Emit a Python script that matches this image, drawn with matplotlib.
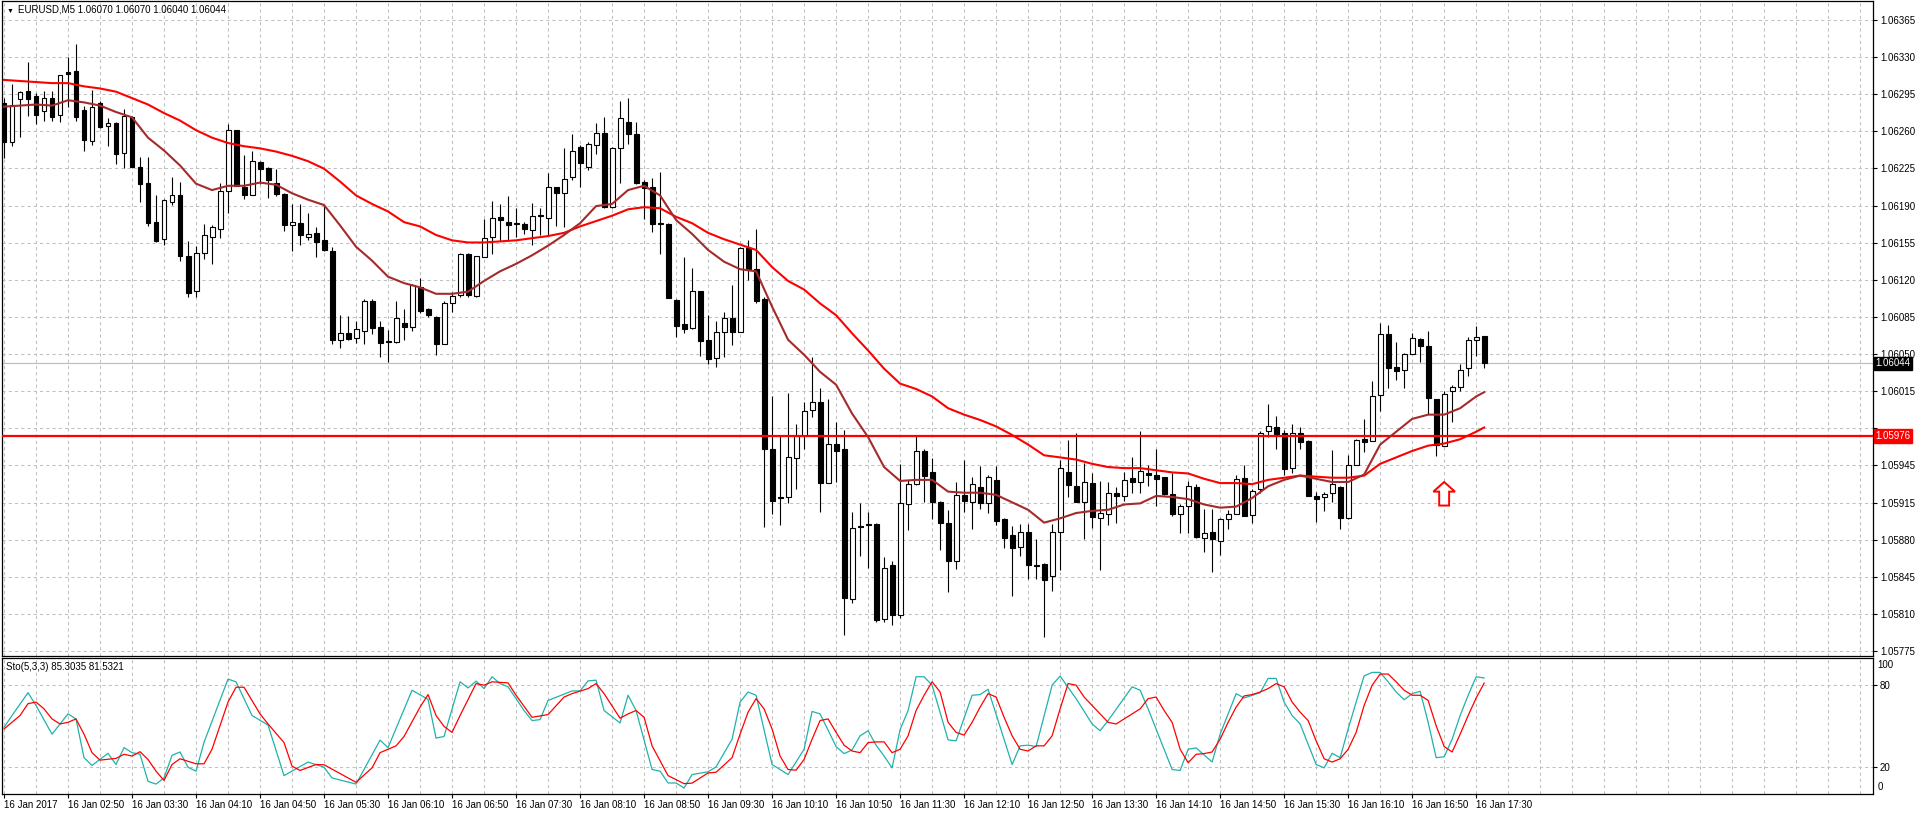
import matplotlib
matplotlib.use("Agg")
import matplotlib.pyplot as plt
import matplotlib.transforms as mtransforms
import numpy as np
from matplotlib.patches import Polygon

plt.rcParams["font.family"] = ["Liberation Sans", "DejaVu Sans"]

# EURUSD M5, 16 Jan 2017, one bar every 5 minutes from 02:10 to 17:35
opens = [1.06287, 1.06251, 1.06291, 1.06299, 1.06294, 1.06280, 1.06292, 1.06276, 1.06316, 1.06317,
         1.06281, 1.06252, 1.06287, 1.06266, 1.06269, 1.06241, 1.06274, 1.06228, 1.06213, 1.06176,
         1.06160, 1.06195, 1.06201, 1.06144, 1.06112, 1.06147, 1.06162, 1.06170, 1.06205, 1.06262,
         1.06209, 1.06201, 1.06232, 1.06227, 1.06213, 1.06202, 1.06173, 1.06175, 1.06162, 1.06166,
         1.06159, 1.06149, 1.06066, 1.06072, 1.06068, 1.06074, 1.06102, 1.06078, 1.06065, 1.06064,
         1.06082, 1.06078, 1.06115, 1.06095, 1.06087, 1.06062, 1.06100, 1.06108, 1.06146, 1.06107,
         1.06143, 1.06162, 1.06181, 1.06176, 1.06175, 1.06174, 1.06169, 1.06183, 1.06180, 1.06209,
         1.06203, 1.06218, 1.06246, 1.06228, 1.06248, 1.06259, 1.06190, 1.06245, 1.06270, 1.06258,
         1.06214, 1.06209, 1.06175, 1.06174, 1.06103, 1.06081, 1.06077, 1.06112, 1.06066, 1.06049,
         1.06073, 1.06086, 1.06073, 1.06152, 1.06132, 1.06104, 1.05964, 1.05919, 1.05919, 1.05955,
         1.05976, 1.06000, 1.06008, 1.05932, 1.05969, 1.05964, 1.05824, 1.05892, 1.05894, 1.05894,
         1.05805, 1.05855, 1.05809, 1.05912, 1.05931, 1.05962, 1.05942, 1.05914, 1.05895, 1.05859,
         1.05921, 1.05914, 1.05928, 1.05913, 1.05935, 1.05898, 1.05883, 1.05872, 1.05886, 1.05855,
         1.05856, 1.05845, 1.05886, 1.05942, 1.05929, 1.05914, 1.05932, 1.05899, 1.05903, 1.05923,
         1.05920, 1.05937, 1.05933, 1.05941, 1.05940, 1.05938, 1.05922, 1.05903, 1.05911, 1.05928,
         1.05881, 1.05886, 1.05878, 1.05898, 1.05903, 1.05937, 1.05902, 1.05926, 1.05981, 1.05984,
         1.05979, 1.05946, 1.05979, 1.05971, 1.05920, 1.05919, 1.05923, 1.05928, 1.05899, 1.05949,
         1.05973, 1.05971, 1.06014, 1.06071, 1.06041, 1.06038, 1.06053, 1.06067, 1.06060, 1.06011,
         1.05967, 1.06018, 1.06022, 1.06040, 1.06066, 1.06070]
highs = [1.06292, 1.06305, 1.06299, 1.06326, 1.06297, 1.06299, 1.06299, 1.06314, 1.06330, 1.06343,
         1.06285, 1.06300, 1.06289, 1.06273, 1.06270, 1.06282, 1.06275, 1.06237, 1.06237, 1.06201,
         1.06198, 1.06218, 1.06214, 1.06158, 1.06154, 1.06174, 1.06173, 1.06213, 1.06268, 1.06262,
         1.06239, 1.06243, 1.06233, 1.06228, 1.06226, 1.06203, 1.06193, 1.06193, 1.06185, 1.06171,
         1.06192, 1.06153, 1.06089, 1.06088, 1.06084, 1.06104, 1.06104, 1.06084, 1.06075, 1.06102,
         1.06095, 1.06118, 1.06124, 1.06096, 1.06088, 1.06102, 1.06111, 1.06147, 1.06147, 1.06144,
         1.06179, 1.06196, 1.06193, 1.06200, 1.06189, 1.06176, 1.06194, 1.06189, 1.06222, 1.06209,
         1.06245, 1.06258, 1.06248, 1.06251, 1.06269, 1.06274, 1.06246, 1.06289, 1.06292, 1.06270,
         1.06215, 1.06217, 1.06223, 1.06175, 1.06104, 1.06143, 1.06133, 1.06112, 1.06089, 1.06084,
         1.06092, 1.06117, 1.06153, 1.06159, 1.06170, 1.06106, 1.06013, 1.05977, 1.06016, 1.05987,
         1.06008, 1.06050, 1.06021, 1.06011, 1.05989, 1.05982, 1.05905, 1.05913, 1.05905, 1.05895,
         1.05863, 1.05859, 1.05950, 1.05935, 1.05977, 1.05964, 1.05955, 1.05915, 1.05907, 1.05933,
         1.05954, 1.05938, 1.05948, 1.05940, 1.05948, 1.05899, 1.05892, 1.05894, 1.05894, 1.05880,
         1.05857, 1.05894, 1.05954, 1.05972, 1.05979, 1.05951, 1.05941, 1.05934, 1.05933, 1.05928,
         1.05942, 1.05956, 1.05981, 1.05949, 1.05964, 1.05938, 1.05941, 1.05912, 1.05934, 1.05931,
         1.05908, 1.05908, 1.05899, 1.05907, 1.05940, 1.05949, 1.05926, 1.05981, 1.06006, 1.05995,
         1.05982, 1.05987, 1.05984, 1.05972, 1.05924, 1.05924, 1.05963, 1.05929, 1.05958, 1.05973,
         1.05992, 1.06027, 1.06082, 1.06080, 1.06064, 1.06054, 1.06072, 1.06068, 1.06074, 1.06011,
         1.06018, 1.06024, 1.06043, 1.06069, 1.06079, 1.06070]
lows = [1.06236, 1.06247, 1.06256, 1.06275, 1.06268, 1.06271, 1.06271, 1.06270, 1.06284, 1.06271,
        1.06243, 1.06248, 1.06264, 1.06247, 1.06230, 1.06227, 1.06228, 1.06195, 1.06172, 1.06157,
        1.06155, 1.06192, 1.06140, 1.06106, 1.06106, 1.06142, 1.06137, 1.06161, 1.06185, 1.06210,
        1.06198, 1.06201, 1.06212, 1.06199, 1.06200, 1.06168, 1.06149, 1.06155, 1.06159, 1.06143,
        1.06149, 1.06062, 1.06058, 1.06066, 1.06063, 1.06062, 1.06071, 1.06050, 1.06045, 1.06063,
        1.06066, 1.06074, 1.06091, 1.06087, 1.06052, 1.06062, 1.06092, 1.06106, 1.06106, 1.06106,
        1.06143, 1.06146, 1.06158, 1.06158, 1.06162, 1.06165, 1.06155, 1.06164, 1.06163, 1.06172,
        1.06171, 1.06215, 1.06209, 1.06225, 1.06240, 1.06189, 1.06189, 1.06213, 1.06249, 1.06212,
        1.06179, 1.06167, 1.06146, 1.06105, 1.06069, 1.06072, 1.06076, 1.06051, 1.06043, 1.06041,
        1.06050, 1.06061, 1.06073, 1.06122, 1.06100, 1.05891, 1.05903, 1.05893, 1.05913, 1.05926,
        1.05964, 1.05994, 1.05905, 1.05932, 1.05933, 1.05790, 1.05820, 1.05864, 1.05853, 1.05802,
        1.05802, 1.05799, 1.05806, 1.05888, 1.05930, 1.05914, 1.05898, 1.05869, 1.05830, 1.05852,
        1.05905, 1.05889, 1.05908, 1.05904, 1.05893, 1.05871, 1.05826, 1.05864, 1.05842, 1.05842,
        1.05788, 1.05831, 1.05851, 1.05919, 1.05914, 1.05880, 1.05890, 1.05851, 1.05893, 1.05895,
        1.05915, 1.05923, 1.05923, 1.05929, 1.05911, 1.05921, 1.05901, 1.05885, 1.05885, 1.05881,
        1.05868, 1.05849, 1.05865, 1.05889, 1.05903, 1.05901, 1.05895, 1.05923, 1.05975, 1.05964,
        1.05940, 1.05941, 1.05964, 1.05920, 1.05896, 1.05906, 1.05914, 1.05889, 1.05898, 1.05949,
        1.05961, 1.05971, 1.05999, 1.06021, 1.06028, 1.06021, 1.06053, 1.06045, 1.05997, 1.05957,
        1.05967, 1.05989, 1.06018, 1.06032, 1.06051, 1.06040]
closes = [1.06251, 1.06286, 1.06298, 1.06291, 1.06276, 1.06292, 1.06274, 1.06314, 1.06315, 1.06274,
          1.06253, 1.06284, 1.06265, 1.06269, 1.06240, 1.06275, 1.06228, 1.06212, 1.06175, 1.06158,
          1.06197, 1.06201, 1.06144, 1.06110, 1.06147, 1.06164, 1.06171, 1.06205, 1.06262, 1.06210,
          1.06201, 1.06233, 1.06226, 1.06215, 1.06202, 1.06173, 1.06176, 1.06164, 1.06165, 1.06157,
          1.06150, 1.06066, 1.06072, 1.06067, 1.06076, 1.06102, 1.06077, 1.06063, 1.06064, 1.06086,
          1.06078, 1.06117, 1.06093, 1.06089, 1.06062, 1.06100, 1.06107, 1.06146, 1.06108, 1.06144,
          1.06161, 1.06180, 1.06178, 1.06173, 1.06174, 1.06170, 1.06182, 1.06182, 1.06209, 1.06203,
          1.06216, 1.06243, 1.06231, 1.06249, 1.06259, 1.06190, 1.06245, 1.06273, 1.06258, 1.06213,
          1.06208, 1.06174, 1.06174, 1.06105, 1.06079, 1.06076, 1.06112, 1.06065, 1.06048, 1.06073,
          1.06086, 1.06073, 1.06152, 1.06132, 1.06102, 1.05964, 1.05915, 1.05918, 1.05956, 1.05976,
          1.05999, 1.06008, 1.05932, 1.05969, 1.05962, 1.05825, 1.05890, 1.05891, 1.05893, 1.05804,
          1.05853, 1.05809, 1.05913, 1.05931, 1.05962, 1.05939, 1.05914, 1.05895, 1.05859, 1.05921,
          1.05915, 1.05931, 1.05913, 1.05938, 1.05897, 1.05881, 1.05871, 1.05886, 1.05855, 1.05854,
          1.05841, 1.05886, 1.05946, 1.05930, 1.05914, 1.05933, 1.05900, 1.05904, 1.05923, 1.05920,
          1.05935, 1.05933, 1.05943, 1.05940, 1.05936, 1.05922, 1.05903, 1.05911, 1.05929, 1.05882,
          1.05885, 1.05880, 1.05898, 1.05903, 1.05936, 1.05901, 1.05925, 1.05979, 1.05985, 1.05978,
          1.05945, 1.05979, 1.05970, 1.05920, 1.05917, 1.05922, 1.05931, 1.05899, 1.05949, 1.05972,
          1.05970, 1.06013, 1.06071, 1.06040, 1.06037, 1.06053, 1.06068, 1.06060, 1.06012, 1.05968,
          1.06015, 1.06022, 1.06038, 1.06066, 1.06069, 1.06044]

# moving averages, read every second bar (last bar added)
ma_idx = list(range(0, 185, 2)) + [185]
ma_slow = [1.06309, 1.06308, 1.06307, 1.06306, 1.06306, 1.06303, 1.06301, 1.06298, 1.06292, 1.06286,
           1.06278, 1.06271, 1.06262, 1.06255, 1.06250, 1.06247, 1.06245, 1.06242, 1.06238, 1.06233,
           1.06226, 1.06214, 1.06201, 1.06193, 1.06186, 1.06176, 1.06172, 1.06164, 1.06159, 1.06157,
           1.06157, 1.06158, 1.06159, 1.06161, 1.06163, 1.06166, 1.06172, 1.06177, 1.06182, 1.06188,
           1.06190, 1.06189, 1.06181, 1.06175, 1.06166, 1.06160, 1.06155, 1.06150, 1.06134, 1.06121,
           1.06113, 1.06100, 1.06089, 1.06072, 1.06056, 1.06039, 1.06025, 1.06020, 1.06013, 1.06002,
           1.05996, 1.05991, 1.05985, 1.05977, 1.05968, 1.05958, 1.05956, 1.05954, 1.05950, 1.05947,
           1.05946, 1.05946, 1.05944, 1.05942, 1.05941, 1.05936, 1.05932, 1.05932, 1.05931, 1.05935,
           1.05937, 1.05939, 1.05938, 1.05937, 1.05937, 1.05939, 1.05950, 1.05956, 1.05962, 1.05967,
           1.05969, 1.05973, 1.05980, 1.05984]
ma_fast = [1.06284, 1.06285, 1.06286, 1.06285, 1.06290, 1.06288, 1.06285, 1.06279, 1.06274, 1.06255,
           1.06243, 1.06229, 1.06212, 1.06206, 1.06210, 1.06210, 1.06213, 1.06211, 1.06203, 1.06197,
           1.06192, 1.06173, 1.06153, 1.06140, 1.06125, 1.06119, 1.06115, 1.06109, 1.06109, 1.06111,
           1.06121, 1.06130, 1.06137, 1.06145, 1.06154, 1.06164, 1.06175, 1.06191, 1.06193, 1.06206,
           1.06210, 1.06201, 1.06178, 1.06165, 1.06150, 1.06139, 1.06132, 1.06130, 1.06097, 1.06066,
           1.06052, 1.06036, 1.06024, 1.05997, 1.05975, 1.05947, 1.05934, 1.05935, 1.05935, 1.05924,
           1.05923, 1.05923, 1.05921, 1.05914, 1.05907, 1.05895, 1.05899, 1.05904, 1.05906, 1.05907,
           1.05912, 1.05913, 1.05920, 1.05919, 1.05917, 1.05912, 1.05909, 1.05910, 1.05918, 1.05929,
           1.05935, 1.05939, 1.05936, 1.05933, 1.05933, 1.05940, 1.05968, 1.05980, 1.05992, 1.05996,
           1.05996, 1.06002, 1.06013, 1.06017]

# Stochastic(5,3,3): turning points of %K (main) and %D (signal)
sto_k_idx = [0, 1, 3, 4, 6, 8, 9, 10, 11, 13, 14, 15, 16, 17, 18, 19, 20, 21, 22, 23, 24, 25, 28, 29,
             31, 33, 35, 38, 40, 41, 44, 47, 48, 51, 53, 54, 55, 57, 58, 59, 60, 61, 62, 63, 65, 66,
             67, 68, 69, 71, 72, 73, 74, 75, 77, 78, 79, 81, 82, 83, 84, 85, 86, 88, 89, 91, 92, 93,
             94, 96, 98, 100, 101, 102, 104, 105, 106, 107, 108, 109, 110, 111, 112, 113, 114, 115,
             116, 118, 119, 121, 122, 123, 126, 127, 128, 129, 131, 132, 134, 136, 137, 138, 141,
             142, 143, 146, 147, 148, 149, 151, 152, 154, 155, 157, 158, 159, 160, 161, 162, 164,
             165, 166, 167, 168, 169, 170, 171, 172, 173, 174, 175, 176, 177, 178, 179, 180, 181,
             182, 183, 184, 185]
sto_k_val = [49, 57.7, 74.5, 65.1, 44, 58.9, 55.2, 26.7, 21, 29.9, 21.7, 34.1, 30.4, 29.2, 9.3, 7.3,
             11.8, 28.4, 30.9, 19.7, 16.8, 38, 84.5, 82.5, 57.7, 50.7, 13.5, 23.5, 19.7, 11.8, 7.3,
             39.6, 34.1, 76.3, 69.6, 41.1, 42.3, 82.5, 78, 83, 77.5, 86.2, 81.2, 78.8, 61.4, 54,
             54.7, 68.8, 71.1, 75.8, 75.8, 83.2, 83.7, 61.4, 52.2, 72.6, 61.4, 18, 16.8, 8.1, 8.1,
             4.4, 14.3, 16.3, 20, 40.3, 67.6, 75, 72.6, 21.7, 14.3, 32.9, 60.7, 58.9, 34.9, 29.7,
             32.4, 42.8, 46.5, 35.9, 27.9, 19.2, 47.3, 61.4, 86.2, 86.2, 80, 39.8, 39.1, 72.6, 73.1,
             77, 21.7, 35.4, 35.9, 34.9, 80, 86.7, 70.1, 51.5, 46.5, 54, 78.8, 76.3, 62.6, 18, 17.3,
             32.9, 33.9, 23.5, 44, 73.8, 70.6, 74.5, 85, 85, 67.6, 57.7, 51.5, 21.7, 19.2, 29.9,
             26.7, 47.8, 67.6, 86.9, 89.4, 89.4, 82.5, 75, 69.3, 73.8, 75.5, 52.7, 26.7, 27.4, 40.3,
             57.7, 72.6, 86.2, 85.3035]
sto_d_idx = [0, 2, 3, 4, 5, 6, 7, 8, 9, 10, 11, 12, 14, 15, 16, 17, 18, 19, 20, 21, 22, 24, 25, 26,
             28, 29, 30, 32, 33, 35, 36, 37, 39, 40, 44, 46, 47, 49, 50, 52, 53, 54, 55, 56, 57, 59,
             60, 61, 63, 64, 66, 68, 70, 71, 73, 74, 75, 77, 78, 79, 80, 81, 83, 85, 86, 88, 89, 91,
             92, 93, 94, 95, 96, 97, 98, 99, 100, 101, 102, 103, 104, 105, 106, 107, 108, 109, 110,
             111, 112, 113, 114, 115, 116, 117, 118, 119, 120, 121, 122, 123, 124, 125, 126, 127,
             128, 129, 130, 131, 132, 133, 134, 135, 136, 137, 138, 139, 140, 141, 142, 143, 144,
             145, 146, 147, 148, 149, 150, 151, 152, 153, 154, 155, 156, 157, 158, 159, 160, 161,
             162, 163, 164, 165, 166, 167, 168, 169, 170, 171, 172, 173, 174, 175, 176, 177, 178,
             179, 180, 181, 182, 183, 184, 185]
sto_d_val = [47.8, 57.7, 66.4, 67.6, 62.6, 55.2, 51.5, 52.7, 55.2, 44, 30.4, 24.9, 26.2, 29.2, 27.9,
             31.1, 25.4, 16.8, 10, 21.7, 25.9, 22.2, 22.2, 32.9, 67.6, 78.5, 78.5, 58.9, 51.5, 37.8,
             20.5, 17.3, 21.7, 21.5, 8.6, 19.2, 30.4, 35.4, 42.3, 63.9, 73.1, 57.7, 49.7, 45.3, 57.7,
             81.2, 80, 82.5, 81.7, 72.6, 56.4, 58.4, 71.3, 73.8, 77.5, 81.2, 73.8, 55.7, 58.9, 61.4,
             56.4, 35.4, 13.5, 7.6, 8, 15.5, 16, 26.7, 44, 60.2, 70.1, 62.6, 47.8, 27.9, 18, 17.5,
             25.4, 40.3, 54, 55.2, 45.3, 35.9, 31.6, 30.4, 37.8, 38.3, 38.3, 30.4, 32.9, 42.8, 61.4,
             72.6, 82.5, 75, 52.7, 45.3, 43.3, 52.7, 63.9, 73.8, 71.3, 56.4, 42.8, 32.9, 31.6, 35.4,
             35.4, 42.8, 62.6, 81.2, 80, 71.3, 65.1, 58.9, 52.7, 51.5, 55.2, 58.9, 62.6, 70.1, 71.3,
             61.4, 52.7, 32.9, 23, 29.2, 29.7, 30.9, 40.3, 52.7, 63.9, 72.1, 73.1, 75, 77.5, 81.2,
             78.8, 67.6, 60.2, 54, 39.1, 25.9, 23.5, 25.9, 32.9, 45.3, 65.1, 80, 88.2, 88.2, 82.5,
             76.3, 72.6, 72.6, 68.8, 50.2, 34.9, 30.9, 44, 57.7, 70.6, 81.5321]

support_level = 1.05976
price_levels = ["1.05775", "1.05810", "1.05845", "1.05880", "1.05915", "1.05945", "",
                "1.06015", "1.06050", "1.06085", "1.06120", "1.06155", "1.06190", "1.06225",
                "1.06260", "1.06295", "1.06330", "1.06365"]
time_labels = ["16 Jan 2017", "16 Jan 02:50", "16 Jan 03:30", "16 Jan 04:10", "16 Jan 04:50",
               "16 Jan 05:30", "16 Jan 06:10", "16 Jan 06:50", "16 Jan 07:30", "16 Jan 08:10",
               "16 Jan 08:50", "16 Jan 09:30", "16 Jan 10:10", "16 Jan 10:50", "16 Jan 11:30",
               "16 Jan 12:10", "16 Jan 12:50", "16 Jan 13:30", "16 Jan 14:10", "16 Jan 14:50",
               "16 Jan 15:30", "16 Jan 16:10", "16 Jan 16:50", "16 Jan 17:30"]
bars_per_label = 8
bars_per_grid = 4

W, H = 1916, 815
GRID = dict(color="#C0C0C0", lw=0.75, ls=(0, (3, 3)))


def px_box(x0, y0, x1, y1):
    return [x0 / W, 1 - y1 / H, (x1 - x0) / W, (y1 - y0) / H]


fig = plt.figure(figsize=(W / 100, H / 100), dpi=100)
ax = fig.add_axes(px_box(2, 1, 1873, 656))
ax_sto = fig.add_axes(px_box(2, 658, 1873, 794))

idx = np.arange(len(opens))
o = np.array(opens)
h = np.array(highs)
lo = np.array(lows)
c = np.array(closes)
xlim = (-0.25, 233.6)

for a in (ax, ax_sto):
    a.set_xlim(*xlim)
    for sp in a.spines.values():
        sp.set_color("black")
        sp.set_linewidth(0.9)
    for g in np.arange(0, xlim[1], bars_per_grid):
        a.axvline(g, zorder=0, **GRID)

# price panel
ax.set_ylim(1.057703, 1.063828)
levels = np.linspace(1.05775, 1.06365, len(price_levels))
for lv in levels:
    ax.axhline(lv, zorder=0, **GRID)
ax.yaxis.tick_right()
ax.set_yticks(levels)
ax.set_yticklabels(price_levels, fontsize=7)
ax.tick_params(axis="y", direction="out", length=3, width=0.8, pad=2)
ax.set_xticks([])

ax.axhline(c[-1], color="#C0C0C0", lw=0.9, zorder=1)
ax.axhline(support_level, color="#FF0000", lw=1.6, zorder=4)

bull = c >= o
ax.vlines(idx, lo, h, color="black", lw=0.8, zorder=2)
ax.bar(idx, np.abs(c - o), bottom=np.minimum(o, c), width=0.62,
       color=np.where(bull, "white", "black"), edgecolor="black", lw=0.8, zorder=3)

ax.plot(ma_idx, ma_slow, color="#FF0000", lw=1.5, zorder=5)
ax.plot(ma_idx, ma_fast, color="#A52A2A", lw=1.5, zorder=5)

# hollow up arrow under the pullback
ax_x, tip, neck, base = 180, 1.05933, 1.05924, 1.05911
arrow = Polygon([(ax_x, tip), (ax_x + 1.35, neck), (ax_x + 0.62, neck), (ax_x + 0.62, base),
                 (ax_x - 0.62, base), (ax_x - 0.62, neck), (ax_x - 1.35, neck)],
                closed=True, facecolor="white", edgecolor="#FF0000", lw=1.4, zorder=6)
ax.add_patch(arrow)

right = mtransforms.blended_transform_factory(ax.transAxes, ax.transData)
ax.text(1.0013, c[-1], "%.5f" % c[-1], transform=right, fontsize=7, color="white",
        va="center", ha="left", clip_on=False, zorder=10,
        bbox=dict(boxstyle="square,pad=0.18", fc="black", ec="black"))
ax.text(1.0013, support_level, "%.5f" % support_level, transform=right, fontsize=7,
        color="white", va="center", ha="left", clip_on=False, zorder=10,
        bbox=dict(boxstyle="square,pad=0.18", fc="#FF0000", ec="#FF0000"))

fig.text(18 / W, 1 - 10 / H, "EURUSD,M5 %.5f %.5f %.5f %.5f" % (o[-1], h[-1], lo[-1], c[-1]),
         fontsize=7, va="center", ha="left")
fig.text(7 / W, 1 - 11 / H, "\u25BC", fontsize=5, va="center", ha="left")

# stochastic panel
ax_sto.set_ylim(0, 100)
for lv in (80, 20):
    ax_sto.axhline(lv, zorder=0, **GRID)
ax_sto.yaxis.tick_right()
ax_sto.set_yticks([80, 20])
ax_sto.set_yticklabels(["80", "20"], fontsize=7)
ax_sto.tick_params(axis="y", direction="out", length=3, width=0.8, pad=2)
rs = mtransforms.blended_transform_factory(ax_sto.transAxes, ax_sto.transData)
ax_sto.text(1.0025, 95, "100", transform=rs, fontsize=7, va="center", ha="left", clip_on=False)
ax_sto.text(1.0025, 5.4, "0", transform=rs, fontsize=7, va="center", ha="left", clip_on=False)

ax_sto.plot(sto_k_idx, sto_k_val, color="#20B2AA", lw=0.9, zorder=3)
ax_sto.plot(sto_d_idx, sto_d_val, color="#FF0000", lw=0.9, zorder=4)
ax_sto.text(4 / 1871, 1 - 9 / 136, "Sto(5,3,3) %.4f %.4f" % (sto_k_val[-1], sto_d_val[-1]),
            transform=ax_sto.transAxes, fontsize=7, va="center", ha="left")

ticks = np.arange(len(time_labels)) * bars_per_label
ax_sto.set_xticks(ticks)
ax_sto.set_xticklabels(time_labels, fontsize=7, ha="left")
ax_sto.tick_params(axis="x", direction="out", length=3, width=0.8, pad=1.5)

fig.savefig("out.png", dpi=100, facecolor="white")
